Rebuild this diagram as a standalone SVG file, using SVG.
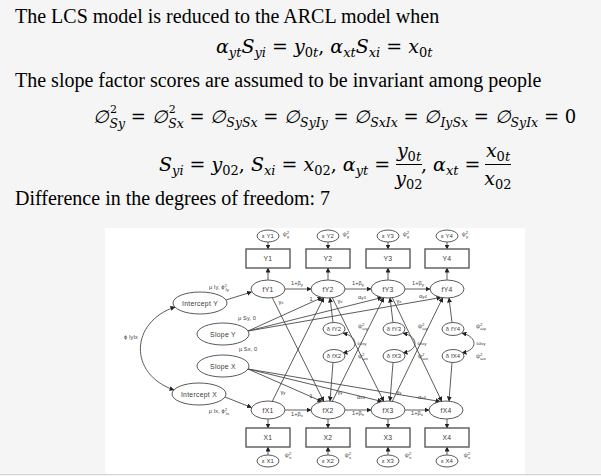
<svg xmlns="http://www.w3.org/2000/svg" width="601" height="476" viewBox="0 0 601 476">
<defs>
<marker id="ah" viewBox="0 0 10 10" refX="9" refY="5" markerWidth="5" markerHeight="5" markerUnits="userSpaceOnUse" orient="auto-start-reverse"><path d="M0,0 L10,5 L0,10 z" fill="#222"/></marker>
<style>
.p{font-family:"Liberation Serif","Times New Roman",serif;font-size:20px;fill:#000}
.m{font-family:"DejaVu Serif",serif;font-style:italic;font-size:19px;fill:#000}
.m4{font-size:18px}
.s{font-size:13px}
.m4 .s{font-size:12.5px}
.m4 .sp{font-size:11px}
.u{font-style:normal}
.nd ellipse,.nd rect{fill:#fff;stroke:#5a5a5a;stroke-width:1}
.nd rect{stroke-width:1.4}
.nd text,.lb{font-family:"Liberation Sans",Arial,sans-serif;font-size:6.8px;letter-spacing:0.3px;fill:#3a3a3a;text-anchor:middle}
.nd .sm{font-size:6px;letter-spacing:0.1px}
.lb{font-size:5.6px;letter-spacing:0.1px}
.lb tspan{font-size:4.3px}
.e{stroke:#4a4a4a;stroke-width:0.9;fill:none;marker-end:url(#ah)}
.e2{marker-start:url(#ah)}
</style>
</defs>
<rect width="601" height="476" fill="#f5f5f5"/>
<g id="text">
<text class="p" x="15" y="22.7">The LCS model is reduced to the ARCL model when</text>
<text class="m" x="216" y="53">α<tspan class="s" dy="4">yt</tspan><tspan dy="-4">S</tspan><tspan class="s" dy="4">yi</tspan><tspan class="u" dy="-4"> = </tspan>y<tspan class="s u" dy="4">0</tspan><tspan class="s">t</tspan><tspan class="u" dy="-4">, </tspan>α<tspan class="s" dy="4">xt</tspan><tspan dy="-4">S</tspan><tspan class="s" dy="4">xi</tspan><tspan class="u" dy="-4"> = </tspan>x<tspan class="s u" dy="4">0</tspan><tspan class="s">t</tspan></text>
<text class="p" x="15" y="87">The slope factor scores are assumed to be invariant among people</text>
<text class="m m4" x="93" y="123">∅<tspan class="s sp u" dx="1" dy="-10">2</tspan><tspan class="s" dx="-7.5" dy="14.5">Sy</tspan><tspan class="u" dy="-4.5"> = </tspan>∅<tspan class="s sp u" dx="1" dy="-10">2</tspan><tspan class="s" dx="-7.5" dy="14.5">Sx</tspan><tspan class="u" dy="-4.5"> = </tspan>∅<tspan class="s" dy="4">SySx</tspan><tspan class="u" dy="-4"> = </tspan>∅<tspan class="s" dy="4">SyIy</tspan><tspan class="u" dy="-4"> = </tspan>∅<tspan class="s" dy="4">SxIx</tspan><tspan class="u" dy="-4"> = </tspan>∅<tspan class="s" dy="4">IySx</tspan><tspan class="u" dy="-4"> = </tspan>∅<tspan class="s" dy="4">SyIx</tspan><tspan class="u" dy="-4"> = 0</tspan></text>
<text class="m" x="159" y="171">S<tspan class="s" dy="4">yi</tspan><tspan class="u" dy="-4"> = </tspan>y<tspan class="s u" dy="4">02</tspan><tspan class="u" dy="-4">, </tspan>S<tspan class="s" dy="4">xi</tspan><tspan class="u" dy="-4"> = </tspan>x<tspan class="s u" dy="4">02</tspan><tspan class="u" dy="-4">, </tspan>α<tspan class="s" dy="4">yt</tspan><tspan class="u" dy="-4"> =</tspan></text>
<text class="m" x="409" y="157" text-anchor="middle">y<tspan class="s u" dy="4">0</tspan><tspan class="s">t</tspan></text>
<line x1="396" y1="164.5" x2="422" y2="164.5" stroke="#000" stroke-width="1"/>
<text class="m" x="409" y="185" text-anchor="middle">y<tspan class="s u" dy="4">02</tspan></text>
<text class="m" x="421" y="171"><tspan class="u">, </tspan>α<tspan class="s" dy="4">xt</tspan><tspan class="u" dy="-4"> =</tspan></text>
<text class="m" x="498" y="157" text-anchor="middle">x<tspan class="s u" dy="4">0</tspan><tspan class="s">t</tspan></text>
<line x1="485" y1="164.5" x2="511" y2="164.5" stroke="#000" stroke-width="1"/>
<text class="m" x="498" y="185" text-anchor="middle">x<tspan class="s u" dy="4">02</tspan></text>
<text class="p" x="15" y="205">Difference in the degrees of freedom: 7</text>
</g>
<rect x="105" y="228" width="420" height="246" fill="#fff"/>
<line x1="0" y1="474.5" x2="601" y2="474.5" stroke="#d4d4d4" stroke-width="1.2"/>
<g id="connectors">
<path class="e" d="M268,242 V249"/><path class="e" d="M328,242 V249"/><path class="e" d="M388,242 V249"/><path class="e" d="M447,242 V249"/>
<path class="e" d="M268,280 V268"/><path class="e" d="M328,280 V268"/><path class="e" d="M388,280 V268"/><path class="e" d="M447,280 V268"/>
<path class="e" d="M268,419 V428"/><path class="e" d="M328,419 V428"/><path class="e" d="M388,419 V428"/><path class="e" d="M447,419 V428"/>
<path class="e" d="M268,455 V447"/><path class="e" d="M328,455 V447"/><path class="e" d="M388,455 V447"/><path class="e" d="M447,455 V447"/>
<path class="e" d="M285,289 H311"/><path class="e" d="M345,289 H371"/><path class="e" d="M405,289 H430"/>
<path class="e" d="M285,410 H311"/><path class="e" d="M345,410 H371"/><path class="e" d="M405,410 H429"/>
<path class="e" d="M226,300 L251.5,292"/>
<path class="e" d="M225,397 L251.5,407.5"/>
<path class="e" d="M248,331 L322,297.5"/><path class="e" d="M248,331 L382,297.5"/><path class="e" d="M248,331 L441,297.5"/>
<path class="e" d="M248,369 L322,401.5"/><path class="e" d="M248,369 L382,401.5"/><path class="e" d="M248,369 L440,401.5"/>
<path class="e" d="M272.3,297.7 L323.7,401.3"/><path class="e" d="M332.3,297.7 L383.7,401.3"/><path class="e" d="M392.3,297.7 L441.7,401.3"/>
<path class="e" d="M272.3,401.3 L323.7,297.7"/><path class="e" d="M332.3,401.3 L383.7,297.7"/><path class="e" d="M392.3,401.3 L442.7,297.7"/>
<path class="e" d="M333,322.5 L330,298"/><path class="e" d="M393,322.5 L390,298"/><path class="e" d="M452,322.5 L449,298"/>
<path class="e" d="M333,362.5 L330,401"/><path class="e" d="M393,362.5 L390,401"/><path class="e" d="M452,362.5 L449,401"/>
<path class="e e2" d="M343,333 C359,337 359,350 343,353"/>
<path class="e e2" d="M403,333 C419,337 419,350 403,353"/>
<path class="e e2" d="M462,333 C478,337 478,350 462,353"/>
<path class="e e2" d="M175,307 C130,322 128,374 174,390"/>
</g>
<g id="labels">
<text class="lb" x="286" y="236">ψ<tspan dy="-2.5">2</tspan><tspan dx="-2.2" dy="4.5">y</tspan></text>
<text class="lb" x="346" y="236">ψ<tspan dy="-2.5">2</tspan><tspan dx="-2.2" dy="4.5">y</tspan></text>
<text class="lb" x="406" y="236">ψ<tspan dy="-2.5">2</tspan><tspan dx="-2.2" dy="4.5">y</tspan></text>
<text class="lb" x="465" y="236">ψ<tspan dy="-2.5">2</tspan><tspan dx="-2.2" dy="4.5">y</tspan></text>
<text class="lb" x="288" y="457">ψ<tspan dy="-2.5">2</tspan><tspan dx="-2.2" dy="4.5">x</tspan></text>
<text class="lb" x="348" y="457">ψ<tspan dy="-2.5">2</tspan><tspan dx="-2.2" dy="4.5">x</tspan></text>
<text class="lb" x="408" y="457">ψ<tspan dy="-2.5">2</tspan><tspan dx="-2.2" dy="4.5">x</tspan></text>
<text class="lb" x="467" y="457">ψ<tspan dy="-2.5">2</tspan><tspan dx="-2.2" dy="4.5">x</tspan></text>
<text class="lb" x="297" y="285">1+β<tspan dy="1">y</tspan></text>
<text class="lb" x="358" y="285">1+β<tspan dy="1">y</tspan></text>
<text class="lb" x="418" y="285">1+β<tspan dy="1">y</tspan></text>
<text class="lb" x="297" y="416">1+β<tspan dy="1">x</tspan></text>
<text class="lb" x="358" y="415">1+β<tspan dy="1">x</tspan></text>
<text class="lb" x="417" y="415">1+β<tspan dy="1">x</tspan></text>
<text class="lb" x="311" y="301">1</text>
<text class="lb" x="311" y="398">1</text>
<text class="lb" x="281" y="304">γ<tspan>x</tspan></text>
<text class="lb" x="340" y="303">γ<tspan>x</tspan></text>
<text class="lb" x="399" y="303">γ<tspan>x</tspan></text>
<text class="lb" x="283" y="394">γ<tspan>y</tspan></text>
<text class="lb" x="340" y="394">γ<tspan>y</tspan></text>
<text class="lb" x="399" y="394">γ<tspan>y</tspan></text>
<text class="lb" x="362" y="299">α<tspan>y3</tspan></text>
<text class="lb" x="423" y="298">α<tspan>y4</tspan></text>
<text class="lb" x="361" y="399">α<tspan>x3</tspan></text>
<text class="lb" x="422" y="399">α<tspan>x4</tspan></text>
<text class="lb" x="219" y="289">μ Iy, ϕ<tspan dy="-2.5">2</tspan><tspan dx="-1.5" dy="4.5">Iy</tspan></text>
<text class="lb" x="247" y="320">μ Sy, 0</text>
<text class="lb" x="248" y="351">μ Sx, 0</text>
<text class="lb" x="219" y="413">μ Ix, ϕ<tspan dy="-2.5">2</tspan><tspan dx="-1.5" dy="4.5">Ix</tspan></text>
<text class="lb" x="131" y="339">ϕ IyIx</text>
<text class="lb" x="363" y="328">ψ<tspan dy="-2.5">2</tspan><tspan dx="-2.2" dy="4.5">ωy</tspan></text>
<text class="lb" x="423" y="328">ψ<tspan dy="-2.5">2</tspan><tspan dx="-2.2" dy="4.5">ωy</tspan></text>
<text class="lb" x="481" y="328">ψ<tspan dy="-2.5">2</tspan><tspan dx="-2.2" dy="4.5">ωy</tspan></text>
<text class="lb" x="363" y="358">ψ<tspan dy="-2.5">2</tspan><tspan dx="-2.2" dy="4.5">ωx</tspan></text>
<text class="lb" x="423" y="358">ψ<tspan dy="-2.5">2</tspan><tspan dx="-2.2" dy="4.5">ωx</tspan></text>
<text class="lb" x="481" y="358">ψ<tspan dy="-2.5">2</tspan><tspan dx="-2.2" dy="4.5">ωx</tspan></text>
<text class="lb" x="362" y="345">ω<tspan>xy</tspan></text>
<text class="lb" x="422" y="345">ω<tspan>xy</tspan></text>
<text class="lb" x="481" y="345">ω<tspan>xy</tspan></text>
</g>
<g id="nodes" class="nd">
<g id="eY1"><ellipse cx="268" cy="236" rx="11" ry="6"/><text class="sm" x="268" y="238">ε Y1</text></g>
<g id="eY2"><ellipse cx="328" cy="236" rx="11" ry="6"/><text class="sm" x="328" y="238">ε Y2</text></g>
<g id="eY3"><ellipse cx="388" cy="236" rx="11" ry="6"/><text class="sm" x="388" y="238">ε Y3</text></g>
<g id="eY4"><ellipse cx="447" cy="236" rx="11" ry="6"/><text class="sm" x="447" y="238">ε Y4</text></g>
<g id="Y1"><rect x="246" y="249" width="44" height="19"/><text x="268" y="261">Y1</text></g>
<g id="Y2"><rect x="306" y="249" width="44" height="19"/><text x="328" y="261">Y2</text></g>
<g id="Y3"><rect x="366" y="249" width="44" height="19"/><text x="388" y="261">Y3</text></g>
<g id="Y4"><rect x="425" y="249" width="44" height="19"/><text x="447" y="261">Y4</text></g>
<g id="fY1"><ellipse cx="268" cy="289" rx="17" ry="9"/><text x="268" y="291.5">fY1</text></g>
<g id="fY2"><ellipse cx="328" cy="289" rx="17" ry="9"/><text x="328" y="291.5">fY2</text></g>
<g id="fY3"><ellipse cx="388" cy="289" rx="17" ry="9"/><text x="388" y="291.5">fY3</text></g>
<g id="fY4"><ellipse cx="447" cy="289" rx="17" ry="9"/><text x="447" y="291.5">fY4</text></g>
<g id="InterceptY"><ellipse cx="200" cy="303" rx="27" ry="11"/><text x="200" y="305.5">Intercept Y</text></g>
<g id="SlopeY"><ellipse cx="223" cy="334" rx="26" ry="11"/><text x="223" y="336.5">Slope Y</text></g>
<g id="SlopeX"><ellipse cx="223" cy="366" rx="26" ry="11"/><text x="223" y="368.5">Slope X</text></g>
<g id="InterceptX"><ellipse cx="199" cy="394" rx="27" ry="11"/><text x="199" y="396.5">Intercept X</text></g>
<g id="dfY2"><ellipse cx="334" cy="329" rx="11" ry="6.5"/><text class="sm" x="334" y="331">δ fY2</text></g>
<g id="dfY3"><ellipse cx="394" cy="329" rx="11" ry="6.5"/><text class="sm" x="394" y="331">δ fY3</text></g>
<g id="dfY4"><ellipse cx="453" cy="329" rx="11" ry="6.5"/><text class="sm" x="453" y="331">δ fY4</text></g>
<g id="dfX2"><ellipse cx="334" cy="356" rx="11" ry="6.5"/><text class="sm" x="334" y="358">δ fX2</text></g>
<g id="dfX3"><ellipse cx="394" cy="356" rx="11" ry="6.5"/><text class="sm" x="394" y="358">δ fX3</text></g>
<g id="dfX4"><ellipse cx="453" cy="356" rx="11" ry="6.5"/><text class="sm" x="453" y="358">δ fX4</text></g>
<g id="fX1"><ellipse cx="268" cy="410" rx="17" ry="9"/><text x="268" y="412.5">fX1</text></g>
<g id="fX2"><ellipse cx="328" cy="410" rx="17" ry="9"/><text x="328" y="412.5">fX2</text></g>
<g id="fX3"><ellipse cx="388" cy="410" rx="17" ry="9"/><text x="388" y="412.5">fX3</text></g>
<g id="fX4"><ellipse cx="446" cy="410" rx="17" ry="9"/><text x="446" y="412.5">fX4</text></g>
<g id="X1"><rect x="246" y="428" width="44" height="19"/><text x="268" y="440">X1</text></g>
<g id="X2"><rect x="306" y="428" width="44" height="19"/><text x="328" y="440">X2</text></g>
<g id="X3"><rect x="366" y="428" width="44" height="19"/><text x="388" y="440">X3</text></g>
<g id="X4"><rect x="425" y="428" width="44" height="19"/><text x="447" y="440">X4</text></g>
<g id="eX1"><ellipse cx="268" cy="461" rx="11" ry="6"/><text class="sm" x="268" y="463">ε X1</text></g>
<g id="eX2"><ellipse cx="328" cy="461" rx="11" ry="6"/><text class="sm" x="328" y="463">ε X2</text></g>
<g id="eX3"><ellipse cx="388" cy="461" rx="11" ry="6"/><text class="sm" x="388" y="463">ε X3</text></g>
<g id="eX4"><ellipse cx="447" cy="461" rx="11" ry="6"/><text class="sm" x="447" y="463">ε X4</text></g>
</g>
</svg>
